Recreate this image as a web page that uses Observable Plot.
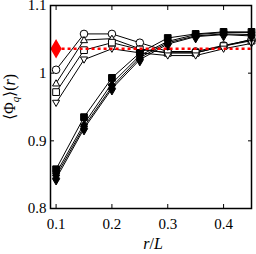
<!DOCTYPE html>
<html><head><meta charset="utf-8">
<script src="https://cdn.jsdelivr.net/npm/d3@7"></script>
<script src="https://cdn.jsdelivr.net/npm/@observablehq/plot@0.6"></script>
<style>body{margin:0;background:#fff}</style>
</head><body><div id="chart"></div>
<script>
const rL = [0.1,0.15,0.2,0.25,0.3,0.35,0.4,0.45];
const openCircle = [1.005,1.058,1.058,1.045,1.032,1.032,1.041,1.049];
const openTriUp = [0.985,1.049,1.051,1.036,1.030,1.030,1.040,1.050];
const openSquare = [0.972,1.034,1.045,1.035,1.030,1.030,1.040,1.048];
const openTriDown = [0.956,1.020,1.036,1.030,1.026,1.026,1.036,1.044];
const fillSquare = [0.858,0.935,0.993,1.030,1.052,1.058,1.061,1.061];
const fillTriUp = [0.852,0.925,0.985,1.026,1.047,1.057,1.060,1.060];
const fillTriDown = [0.848,0.921,0.980,1.023,1.045,1.055,1.058,1.057];
const fillDiamond = [0.844,0.918,0.977,1.020,1.043,1.054,1.057,1.055];
const refValue = 1.036;
const refX = 0.1;
const xTicks = [0.1,0.2,0.3,0.4];
const yTicks = [0.8,0.9,1.0,1.1];

const triDown = {draw(ctx, size){const h=Math.sqrt(size/ (Math.sqrt(3)*0.75)); ctx.moveTo(0,h*0.6); ctx.lineTo(h*0.6,-h*0.45); ctx.lineTo(-h*0.6,-h*0.45); ctx.closePath();}};
const triUp = {draw(ctx, size){const h=Math.sqrt(size/ (Math.sqrt(3)*0.75)); ctx.moveTo(0,-h*0.6); ctx.lineTo(h*0.6,h*0.45); ctx.lineTo(-h*0.6,h*0.45); ctx.closePath();}};

const series = [
  {v: openCircle, sym: "circle", fill: "white"},
  {v: openTriUp, sym: triUp, fill: "white"},
  {v: openSquare, sym: "square", fill: "white"},
  {v: openTriDown, sym: triDown, fill: "white"},
  {v: fillSquare, sym: "square", fill: "black"},
  {v: fillTriUp, sym: triUp, fill: "black"},
  {v: fillTriDown, sym: triDown, fill: "black"},
  {v: fillDiamond, sym: "diamond", fill: "black"}
];

const marks = [];
series.forEach((s,i)=>{
  const d = rL.map((x,j)=>({x, y: s.v[j]}));
  marks.push(Plot.line(d,{x:"x",y:"y",stroke:"black",strokeWidth:1}));
});
series.forEach((s,i)=>{
  const d = rL.map((x,j)=>({x, y: s.v[j]}));
  marks.push(Plot.dot(d,{x:"x",y:"y",symbol:()=>s.sym,r:3.8,fill:s.fill,stroke:"black",strokeWidth:1}));
});
marks.push(Plot.ruleY([refValue],{x1:rL[0],x2:rL[rL.length-1],stroke:"#ff0000",strokeWidth:2.5,strokeDasharray:"3,3"}));
marks.push(Plot.dot([{x:refX,y:refValue}],{x:"x",y:"y",symbol:"diamond",r:5,fill:"#ff0000",stroke:"#ff0000"}));
const blank = () => "";
marks.push(Plot.axisX(xTicks,{anchor:"bottom",tickSize:-4,tickFormat:blank,label:null,strokeWidth:1}));
marks.push(Plot.axisX(xTicks,{anchor:"top",tickSize:-4,tickFormat:blank,label:null,strokeWidth:1}));
marks.push(Plot.axisY(yTicks,{anchor:"left",tickSize:-4,tickFormat:blank,label:null,strokeWidth:1}));
marks.push(Plot.axisY(yTicks,{anchor:"right",tickSize:-4,tickFormat:blank,label:null,strokeWidth:1}));
marks.push(Plot.axisX(xTicks,{anchor:"bottom",tickSize:0,tickPadding:10,tickFormat:d=>d3.format(".1f")(d),fontSize:15,label:null}));
marks.push(Plot.axisY(yTicks,{anchor:"left",tickSize:0,tickPadding:4,tickFormat:d=>d===1?"1":d3.format(".1f")(d),fontSize:15,label:null}));
marks.push(Plot.frame({stroke:"black",strokeWidth:1.5}));

const chart = Plot.plot({
  width:256, height:254,
  marginLeft:50, marginRight:5, marginTop:5, marginBottom:46,
  style:{fontFamily:"'Liberation Serif', serif", color:"black", background:"white"},
  x:{domain:[0.09,0.45]},
  y:{domain:[0.8,1.1]},
  marks
});
const svg = d3.select(chart);
svg.append("text").attr("x",153).attr("y",249).attr("text-anchor","middle")
  .attr("font-family","'Liberation Serif', serif").attr("font-size",16)
  .call(t=>{t.append("tspan").attr("font-style","italic").text("r");t.append("tspan").text("/");t.append("tspan").attr("font-style","italic").text("L");});
svg.append("text").attr("transform","translate(15,97) rotate(-90)").attr("text-anchor","middle")
  .attr("font-family","'Liberation Serif', serif").attr("font-size",16)
  .call(t=>{t.append("tspan").text("⟨Φ");t.append("tspan").attr("font-style","italic").attr("font-size",11).attr("dy",4).text("q");t.append("tspan").attr("dy",-4).text("⟩(");t.append("tspan").attr("font-style","italic").text("r");t.append("tspan").text(")");});
document.getElementById("chart").appendChild(chart);
</script></body></html>
